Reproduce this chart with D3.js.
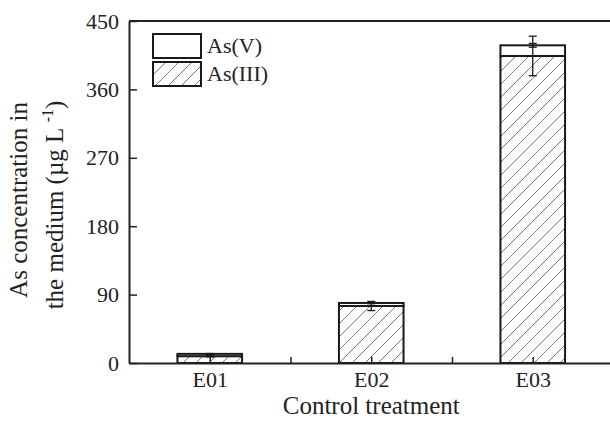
<!DOCTYPE html>
<meta charset="utf-8">
<style>
    body { margin: 0; background: #fff; }
    svg text { font-family: "Liberation Serif", "Times New Roman", Tinos, "DejaVu Serif", serif; fill: #222; }
    .axis path, .axis line { stroke: #222; }
</style>
<svg width="610" height="424"></svg>
<script src="https://cdn.jsdelivr.net/npm/d3@7/dist/d3.min.js"></script>
<script>

    // DATA
    var categories = ["E01", "E02", "E03"];
    var asIII = [9, 75, 404];
    var asV = [3, 4, 14];
    var errIII = [1, 6, 26];
    var errTotal = [0.5, 1, 2.5];
    var yTicks = [0, 90, 180, 270, 360, 450];

    // SETUP
    var svg = d3.select("svg"),
        margin = { top: 21, left: 129 },
        height = 342;

    var x = d3.scaleLinear().domain([0.5, 3.5]).range([129, 613.5]),
        y = d3.scaleLinear().domain([0, 450]).range([margin.top + height, margin.top]),
        barW = x(1.2) - x(0.8);

    var defs = svg.append("defs");
    var pat = defs.append("pattern")
        .attr("id", "hatch")
        .attr("patternUnits", "userSpaceOnUse")
        .attr("width", 13).attr("height", 13);
    pat.append("rect").attr("width", 13).attr("height", 13).attr("fill", "#fff");
    pat.append("path")
        .attr("d", "M-1,14 L14,-1 M-3,3 L3,-3 M10,16 L16,10")
        .attr("stroke", "#777").attr("stroke-width", 1);

    var data = categories.map(function (c, i) {
        return { cat: c, i: i + 1, iii: asIII[i], total: asIII[i] + asV[i], e3: errIII[i], et: errTotal[i] };
    });

    // BARS
    var g = svg.append("g");

    g.selectAll(".b3").data(data).enter().append("rect")
        .attr("x", function (d) { return x(d.i) - barW / 2; })
        .attr("y", function (d) { return y(d.iii); })
        .attr("width", barW)
        .attr("height", function (d) { return y(0) - y(d.iii); })
        .attr("fill", "url(#hatch)")
        .attr("stroke", "#1a1a1a").attr("stroke-width", 2);

    g.selectAll(".b5").data(data).enter().append("rect")
        .attr("x", function (d) { return x(d.i) - barW / 2; })
        .attr("y", function (d) { return y(d.total); })
        .attr("width", barW)
        .attr("height", function (d) { return y(d.iii) - y(d.total); })
        .attr("fill", "#fff")
        .attr("stroke", "#1a1a1a").attr("stroke-width", 2);

    // ERROR BARS
    function errBars(val, err) {
        var eb = g.selectAll(null).data(data).enter().append("g")
            .attr("stroke", "#1a1a1a").attr("stroke-width", 1.3);
        eb.append("line")
            .attr("x1", function (d) { return x(d.i); })
            .attr("x2", function (d) { return x(d.i); })
            .attr("y1", function (d) { return y(val(d) - err(d)); })
            .attr("y2", function (d) { return y(val(d) + err(d)); });
        [-1, 1].forEach(function (s) {
            eb.append("line")
                .attr("x1", function (d) { return x(d.i) - 4; })
                .attr("x2", function (d) { return x(d.i) + 4; })
                .attr("y1", function (d) { return y(val(d) + s * err(d)); })
                .attr("y2", function (d) { return y(val(d) + s * err(d)); });
        });
    }
    errBars(function (d) { return d.iii; }, function (d) { return d.e3; });
    errBars(function (d) { return d.total; }, function (d) { return d.et; });

    // AXES
    var yAxis = svg.append("g")
        .attr("class", "axis")
        .attr("transform", "translate(" + margin.left + ",0)")
        .call(d3.axisLeft(y).tickValues(yTicks).tickSizeInner(-8).tickSizeOuter(0).tickPadding(10));

    var xAxis = svg.append("g")
        .attr("class", "axis")
        .attr("transform", "translate(0," + y(0) + ")")
        .call(d3.axisBottom(x).tickValues([1, 1.5, 2, 2.5, 3]).tickSizeInner(-6).tickSizeOuter(0).tickPadding(8)
            .tickFormat(function (v) { return Number.isInteger(v) ? categories[v - 1] : ""; }));

    svg.selectAll(".axis").attr("font-family", null);
    svg.selectAll(".axis path").attr("stroke-width", 2);
    svg.selectAll(".axis line").attr("stroke-width", 1.5);
    svg.selectAll(".axis text").attr("font-size", 22).attr("fill", "#222");

    // top frame line
    svg.append("line")
        .attr("x1", margin.left).attr("x2", 610)
        .attr("y1", margin.top).attr("y2", margin.top)
        .attr("stroke", "#222").attr("stroke-width", 2);

    // LEGEND
    var legend = [{ label: "As(V)", fill: "#fff" }, { label: "As(III)", fill: "url(#hatch)" }];
    var lg = svg.selectAll(".lg").data(legend).enter().append("g")
        .attr("transform", function (d, i) { return "translate(153," + (34 + i * 28) + ")"; });
    lg.append("rect").attr("width", 48).attr("height", 24)
        .attr("fill", function (d) { return d.fill; })
        .attr("stroke", "#1a1a1a").attr("stroke-width", 2);
    lg.append("text").attr("x", 54).attr("y", 19).attr("font-size", 22)
        .text(function (d) { return d.label; });

    // TITLES
    svg.append("text")
        .attr("x", x(2)).attr("y", 414)
        .attr("text-anchor", "middle").attr("font-size", 25)
        .text("Control treatment");

    var yt = svg.append("text")
        .attr("transform", "rotate(-90)")
        .attr("text-anchor", "middle").attr("font-size", 25);
    yt.append("tspan").attr("x", -200).attr("y", 27).text("As concentration in");
    var l2 = yt.append("tspan").attr("x", -205).attr("y", 63);
    l2.append("tspan").text("the medium (µg L ");
    l2.append("tspan").attr("dy", -10).attr("font-size", 16).text("-1");
    l2.append("tspan").attr("dy", 10).text(")");

</script>
